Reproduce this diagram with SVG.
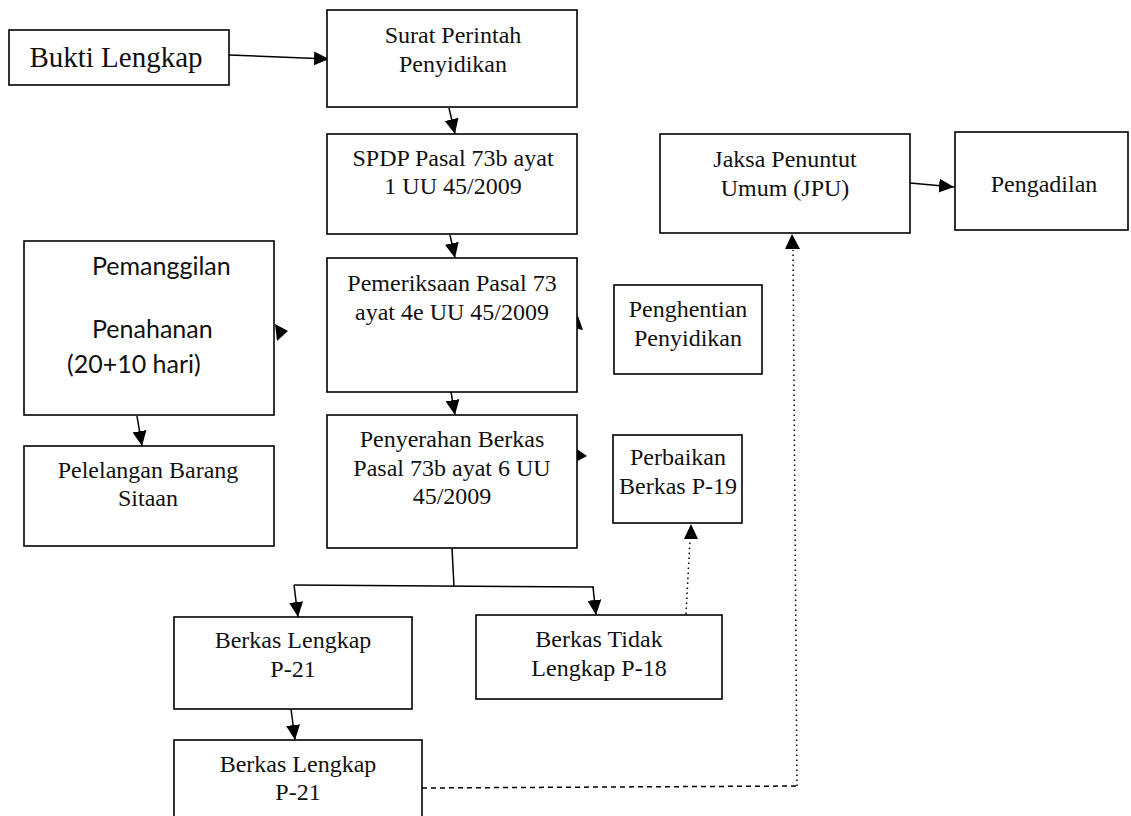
<svg xmlns="http://www.w3.org/2000/svg" width="1131" height="816" viewBox="0 0 1131 816">
<style>
.box{fill:#fff;stroke:#000;stroke-width:1.6}
.t{font-family:"Liberation Serif","Times New Roman",serif;font-size:24px;fill:#111;text-anchor:middle}
.s{font-family:Lato,"Liberation Sans",sans-serif;font-size:25px;fill:#111}
.c{fill:none;stroke:#000;stroke-width:1.5}
.dot{fill:none;stroke:#000;stroke-width:1.5;stroke-dasharray:1.5 3.5}
.dash{fill:none;stroke:#000;stroke-width:1.5;stroke-dasharray:5 4}
.head{fill:#000}
</style>
<defs>
<marker id="arr" markerUnits="userSpaceOnUse" markerWidth="16" markerHeight="14" viewBox="0 0 16 14" refX="15" refY="7" orient="auto">
<path d="M0,0 L15,7 L0,14 Z" fill="#000"/>
</marker>
</defs>
<rect width="1131" height="816" fill="#fff"/>

<g id="connectors">
<line class="c" x1="229" y1="55" x2="329" y2="59" marker-end="url(#arr)"/>
<line class="c" x1="449" y1="108" x2="455" y2="134" marker-end="url(#arr)"/>
<line class="c" x1="450" y1="235" x2="455" y2="258" marker-end="url(#arr)"/>
<line class="c" x1="451" y1="392" x2="455" y2="415" marker-end="url(#arr)"/>
<line class="c" x1="137" y1="416" x2="142" y2="446" marker-end="url(#arr)"/>
<line class="c" x1="910" y1="183" x2="954" y2="187" marker-end="url(#arr)"/>
<polyline class="c" points="452,548 454,587"/>
<polyline class="c" points="294,585 594,587"/>
<line class="c" x1="294" y1="585" x2="298" y2="617" marker-end="url(#arr)"/>
<line class="c" x1="593" y1="587" x2="596" y2="615" marker-end="url(#arr)"/>
<line class="c" x1="291" y1="709" x2="295" y2="740" marker-end="url(#arr)"/>
<polyline class="dash" points="422,788 797,786"/>
<line class="dot" x1="797" y1="786" x2="793" y2="250"/>
<polygon class="head" points="792,234 785,249 800,249"/>
<line class="dot" x1="686" y1="614" x2="690" y2="540"/>
<polygon class="head" points="691,524 684,539 698,539"/>
<polygon class="head" points="563,179 577,173 577,186"/>
<polygon class="head" points="567,327 578,316 583,330"/>
<polygon class="head" points="574,447 587,456 574,463"/>
<polygon class="head" points="275,324 288,331 277,341"/>
</g>

<g id="bukti">
<rect class="box" x="9" y="30" width="220" height="55"/>
<text class="t" x="116" y="67" style="font-size:29px">Bukti Lengkap</text>
</g>
<g id="surat">
<rect class="box" x="327" y="10" width="250" height="97"/>
<text class="t" x="453" y="43">Surat Perintah</text>
<text class="t" x="453" y="72">Penyidikan</text>
</g>
<g id="spdp">
<rect class="box" x="327" y="134" width="250" height="100"/>
<text class="t" x="453" y="166">SPDP Pasal 73b ayat</text>
<text class="t" x="453" y="194">1 UU 45/2009</text>
</g>
<g id="pemeriksaan">
<rect class="box" x="327" y="258" width="250" height="134"/>
<text class="t" x="452" y="291">Pemeriksaan Pasal 73</text>
<text class="t" x="452" y="320">ayat 4e UU 45/2009</text>
</g>
<g id="penyerahan">
<rect class="box" x="327" y="415" width="250" height="133"/>
<text class="t" x="452" y="447">Penyerahan Berkas</text>
<text class="t" x="452" y="476">Pasal 73b ayat 6 UU</text>
<text class="t" x="452" y="504">45/2009</text>
</g>
<g id="pemanggilan">
<rect class="box" x="24" y="241" width="250" height="174"/>
<text class="s" x="92" y="275">Pemanggilan</text>
<text class="s" x="92" y="338">Penahanan</text>
<text class="s" x="67" y="373">(20+10 hari)</text>
</g>
<g id="pelelangan">
<rect class="box" x="24" y="446" width="250" height="100"/>
<text class="t" x="148" y="478">Pelelangan Barang</text>
<text class="t" x="148" y="506">Sitaan</text>
</g>
<g id="jpu">
<rect class="box" x="660" y="134" width="250" height="99"/>
<text class="t" x="785" y="167">Jaksa Penuntut</text>
<text class="t" x="785" y="196">Umum (JPU)</text>
</g>
<g id="pengadilan">
<rect class="box" x="955" y="132" width="173" height="98"/>
<text class="t" x="1044" y="192">Pengadilan</text>
</g>
<g id="penghentian">
<rect class="box" x="614" y="285" width="148" height="89"/>
<text class="t" x="688" y="317">Penghentian</text>
<text class="t" x="688" y="346">Penyidikan</text>
</g>
<g id="perbaikan">
<rect class="box" x="613" y="435" width="129" height="88"/>
<text class="t" x="678" y="465">Perbaikan</text>
<text class="t" x="678" y="494">Berkas P-19</text>
</g>
<g id="tidak-lengkap">
<rect class="box" x="476" y="615" width="246" height="84"/>
<text class="t" x="599" y="647">Berkas Tidak</text>
<text class="t" x="599" y="676">Lengkap P-18</text>
</g>
<g id="lengkap1">
<rect class="box" x="174" y="617" width="238" height="92"/>
<text class="t" x="293" y="648">Berkas Lengkap</text>
<text class="t" x="293" y="677">P-21</text>
</g>
<g id="lengkap2">
<rect class="box" x="174" y="740" width="248" height="80"/>
<text class="t" x="298" y="772">Berkas Lengkap</text>
<text class="t" x="298" y="800">P-21</text>
</g>
</svg>
